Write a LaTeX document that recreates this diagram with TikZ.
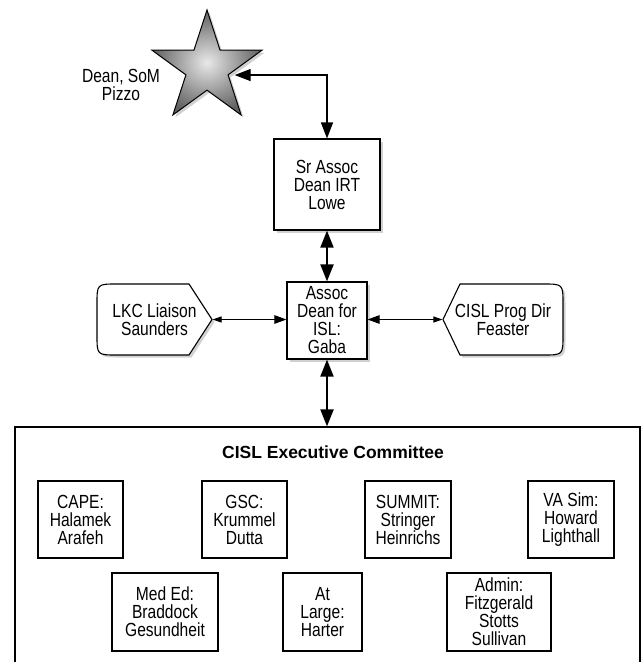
\documentclass[tikz,border=0pt]{standalone}
\usepackage{fontspec}
\setmainfont{Liberation Sans}[FakeStretch=0.82]
\newfontfamily\titlefont{Liberation Sans}
\usetikzlibrary{arrows.meta,shapes.geometric,shadows}

\begin{document}
\begin{tikzpicture}[x=1pt,y=-1pt,line width=1.1pt,
    font=\fontsize{19}{18}\selectfont,
    box/.style={draw,rectangle,align=center,inner sep=0pt},
    shadowed/.style={drop shadow={shadow xshift=2.5pt,shadow yshift=-2.5pt,opacity=0.3,fill=black!60}},
    toplink/.style={line width=1.3pt,{Triangle[length=16pt,width=12pt]}-{Triangle[length=16pt,width=12pt]}},
    trunk/.style={line width=1.9pt,{Triangle[length=17pt,width=13pt]}-{Triangle[length=17pt,width=13pt]}},
    sidelink/.style={line width=1pt,{Triangle[length=9pt,width=6pt]}-{Triangle[length=12pt,width=8.5pt]}}]
        \useasboundingbox (0,0) rectangle (644,662);
        \clip (0,0) rectangle (644,662);

        \node[star,star points=5,star point ratio=2.618,minimum size=116pt,inner sep=0pt,
            draw,line width=1pt,shading=radial,inner color=gray!18,outer color=gray!75!black,shadowed]
            (dean) at (207,68) {};
        \node[align=center,node distance=86pt,left of=dean,yshift=-17pt] (deanlbl) {Dean, SoM\\Pizzo};

        \node[box,fill=white,shadowed,minimum width=106pt,minimum height=91pt] (sr) at (327,184.5) {Sr Assoc\\Dean IRT\\Lowe};
        \node[box,fill=white,shadowed,minimum width=80pt,minimum height=77pt,node distance=136pt,below of=sr] (assoc) {Assoc\\Dean for\\ISL:\\Gaba};

        % side shapes: pointed on the side facing Gaba, rounded on the other
        \draw[fill=white,shadowed] (212,319.5) -- (189,284) -- (117,284) .. controls (97,284) .. (97,304)
            -- (97,335) .. controls (97,355) .. (117,355) -- (189,355) -- cycle;
        \draw[fill=white,shadowed] (443,319.5) -- (460,284) -- (543,284) .. controls (563,284) .. (563,304)
            -- (563,335) .. controls (563,355) .. (543,355) -- (460,355) -- cycle;
        \node[align=center,inner sep=0pt,minimum width=115pt,minimum height=71pt] (lkc) at (154.5,319.5) {LKC Liaison\\Saunders};
        \node[align=center,inner sep=0pt,minimum width=120pt,minimum height=71pt] (cisl) at (503,319.5) {CISL Prog Dir\\Feaster};

        % committee frame runs off the bottom edge
        \node[draw,inner sep=0pt,minimum width=625pt,minimum height=280pt] (committee) at (327.5,567) {};
        \node[font=\titlefont\bfseries\fontsize{17.5}{18}\selectfont] (ctitle) at (333,452) {CISL Executive Committee};

        \node[box,minimum width=85pt,minimum height=77pt] (cape)   at (80.5,519.5) {CAPE:\\Halamek\\Arafeh};
        \node[box,minimum width=85pt,minimum height=77pt] (gsc)    at (244.5,519.5) {GSC:\\Krummel\\Dutta};
        \node[box,minimum width=86pt,minimum height=77pt] (summit) at (408,519.5) {SUMMIT:\\Stringer\\Heinrichs};
        \node[box,minimum width=86pt,minimum height=77pt] (vasim)  at (571,519.5) {VA Sim:\\Howard\\Lighthall};
        \node[box,minimum width=106pt,minimum height=78pt] (meded)   at (165,612) {Med Ed:\\Braddock\\Gesundheit};
        \node[box,minimum width=79pt,minimum height=78pt]  (atlarge) at (322.5,612) {At\\Large:\\Harter};
        \node[box,minimum width=104pt,minimum height=78pt] (admin)   at (499,612) {Admin:\\Fitzgerald\\Stotts\\Sullivan};

        \draw[toplink] ([xshift=6pt]dean.-18) -| (sr.north);
        \draw[trunk] (sr.south) -- (assoc.north);
        \draw[trunk] (assoc.south) -- (assoc.south |- committee.north);
        \draw[sidelink] (lkc.east) -- (lkc.east -| assoc.west);
        \draw[sidelink] (cisl.west) -- (cisl.west -| assoc.east);
    \end{tikzpicture}
\end{document}
